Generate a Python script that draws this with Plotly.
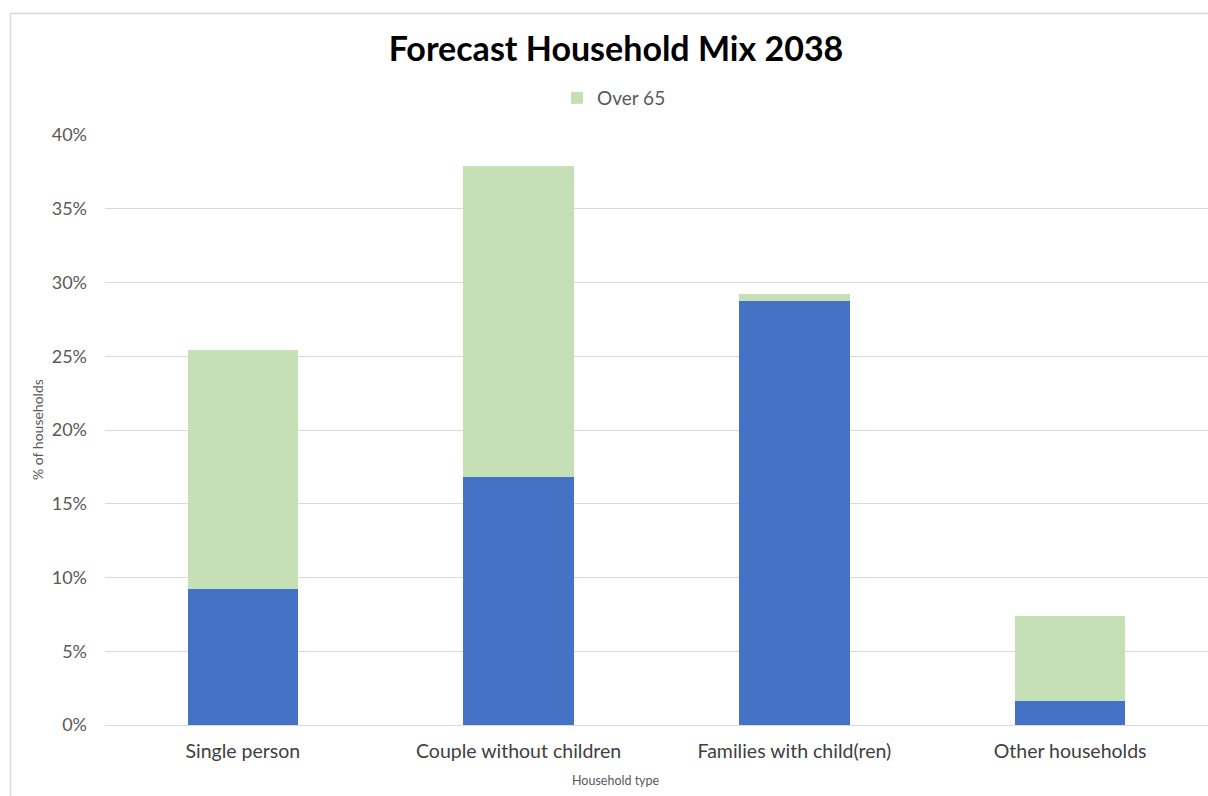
import plotly.graph_objects as go

categories = ["Single person", "Couple without children", "Families with child(ren)", "Other households"]
under_65 = [9.2, 16.8, 28.75, 1.6]
over_65 = [16.2, 21.1, 0.5, 5.8]
y_ticks = [0, 5, 10, 15, 20, 25, 30, 35, 40]
y_tick_labels = [f"{v}%" for v in y_ticks]

W, H = 1208, 796
L, R, T, B = 105, 0, 135, 71
pw, ph = W - L - R, H - T - B

def px_x(x):
    return (x - L) / pw

def px_y(y):
    return (H - B - y) / ph

FONT = "Lato"
GREY_TXT = "#595959"

fig = go.Figure()
fig.add_trace(go.Bar(x=categories, y=under_65, name="Under 65", marker=dict(color="#4472C4", line=dict(width=0)),
                     showlegend=False, width=0.4))
fig.add_trace(go.Bar(x=categories, y=over_65, name="Over 65", marker=dict(color="#C5E0B4", line=dict(width=0)),
                     width=0.4))

fig.update_layout(
    barmode="stack",
    width=W, height=H,
    margin=dict(l=L, r=R, t=T, b=B),
    paper_bgcolor="white", plot_bgcolor="white",
    font=dict(family=FONT, color=GREY_TXT),
    title=dict(text="<b>Forecast Household Mix 2038</b>", x=616 / W, xref="container", xanchor="center",
               y=1 - 49 / H, yref="container", yanchor="middle",
               font=dict(family=FONT, size=34, color="black")),
    legend=dict(orientation="h", x=px_x(614), xanchor="center", y=px_y(98), yanchor="middle",
                font=dict(size=19, color=GREY_TXT), bgcolor="rgba(0,0,0,0)"),
    xaxis=dict(showgrid=False, showline=True, linecolor="#d9d9d9", linewidth=1, ticks="",
               tickfont=dict(size=19.5, color="#404040"), ticklabelstandoff=9, range=[-0.5, 3.5]),
    yaxis=dict(range=[0, 40], tickvals=y_ticks, ticktext=y_tick_labels, showgrid=True,
               gridcolor="#d9d9d9", gridwidth=1, zeroline=False, showline=False, ticks="",
               tickfont=dict(size=18, color=GREY_TXT), ticklabelstandoff=17),
    shapes=[
        dict(type="line", xref="paper", yref="paper", x0=px_x(10.5), x1=px_x(10.5), y0=px_y(13), y1=px_y(800),
             line=dict(color="#d9d9d9", width=1.5)),
        dict(type="line", xref="paper", yref="paper", x0=px_x(10), x1=px_x(1210), y0=px_y(13.5), y1=px_y(13.5),
             line=dict(color="#d9d9d9", width=1.5)),
    ],
    annotations=[
        dict(text="Household type", xref="paper", yref="paper", x=px_x(616), y=px_y(780), xanchor="center",
             yanchor="middle", showarrow=False, font=dict(size=12.5, color=GREY_TXT)),
        dict(text="% of households", xref="paper", yref="paper", x=px_x(37), y=px_y(430), xanchor="center",
             yanchor="middle", showarrow=False, textangle=-90, font=dict(size=14, color=GREY_TXT)),
    ],
)

fig.write_html("out.html")
